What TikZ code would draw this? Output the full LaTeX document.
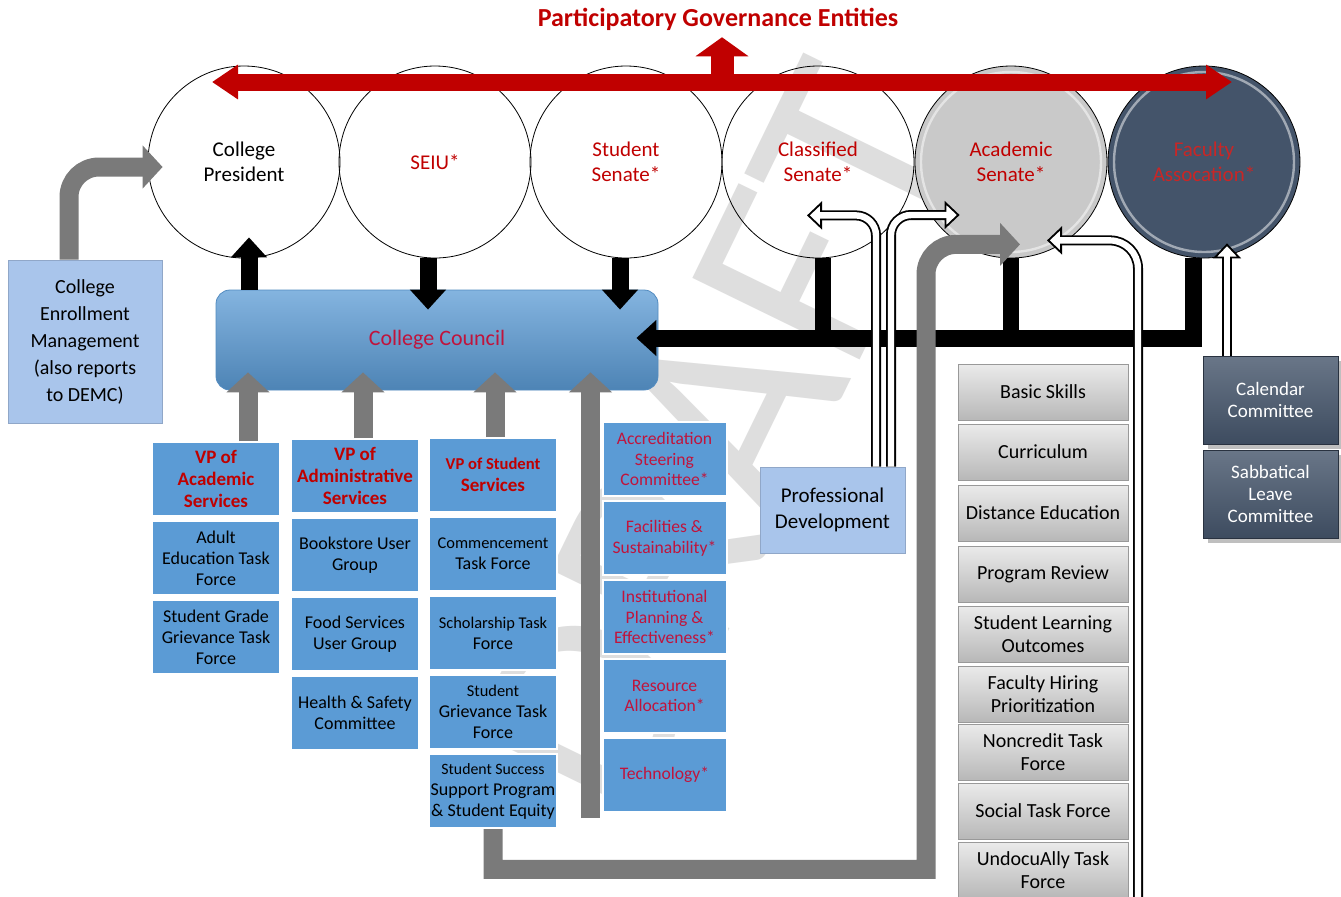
\documentclass[tikz,border=0pt]{standalone}
\usepackage{fontspec}
\setmainfont{Carlito}
\usepackage{tikz}
\usetikzlibrary{shapes,shadows,arrows.meta,positioning,calc}
\pgfdeclarelayer{background}
\pgfdeclarelayer{foreground}
\pgfsetlayers{background,main,foreground}
\definecolor{govred}{HTML}{C00000}
\definecolor{cttred}{HTML}{C0143C}
\definecolor{boxblue}{HTML}{5B9BD5}
\definecolor{paleblue}{HTML}{A9C5EB}
\definecolor{feedgray}{HTML}{7A7A7A}
\definecolor{slate}{HTML}{44546A}
\definecolor{acadgray}{HTML}{C9C9C9}
\tikzstyle{entity} = [draw, circle, minimum size=96pt, inner sep=0pt, text=govred, align=center, font=\fontsize{10.5}{12.5}\selectfont]
\tikzstyle{council} = [rounded corners=7pt, top color=boxblue!75!white, bottom color=boxblue!85!black, draw=boxblue!90!black, minimum width=221pt, minimum height=50pt, text=cttred, font=\fontsize{11}{13}\selectfont]
\tikzstyle{palebox} = [fill=paleblue, draw=paleblue!85!black, align=center, inner sep=1pt, font=\fontsize{10}{13.5}\selectfont]
\tikzstyle{vptitle} = [fill=boxblue, draw=white, line width=1pt, minimum width=64pt, minimum height=37pt, inner sep=1pt, align=center, text=govred, font=\bfseries\fontsize{9.5}{11}\selectfont]
\tikzstyle{taskbox} = [fill=boxblue, draw=white, line width=1pt, minimum width=64pt, minimum height=37pt, inner sep=1pt, align=center, font=\fontsize{9}{10.5}\selectfont]
\tikzstyle{cttee} = [taskbox, minimum width=62pt, text=cttred, font=\fontsize{8.8}{10.3}\selectfont]
\tikzstyle{senatebox} = [draw=black!40, top color=black!8, bottom color=black!28, minimum width=85pt, minimum height=28pt, inner sep=1pt, align=center, font=\fontsize{10}{11.7}\selectfont]
\tikzstyle{facbox} = [draw=slate!60!black, top color=slate!80!white, bottom color=slate!90!black, drop shadow, minimum width=67.5pt, minimum height=44pt, inner sep=1pt, align=center, text=white, font=\fontsize{9.5}{11.2}\selectfont]
\tikzstyle{govboth} = [draw, line width=8.5pt, color=govred, {Triangle[width=16.5pt,length=13pt]}-{Triangle[width=16.5pt,length=13pt]}]
\tikzstyle{govup} = [draw, line width=11.5pt, color=govred, -{Triangle[width=26pt,length=9.5pt]}]
\tikzstyle{linkarrow} = [draw, line width=8.5pt, color=black, -{Triangle[width=17.5pt,length=10pt]}]
\tikzstyle{link} = [draw, line width=8pt, color=black]
\tikzstyle{feed} = [draw, line width=9.5pt, color=feedgray, -{Triangle[width=21pt,length=10pt]}]
\tikzstyle{openshaft} = [draw, line width=5pt, color=black, -{Triangle[width=14pt,length=7.5pt,fill=white,line width=0.9pt]}]
\tikzstyle{openfill} = [draw, line width=3.2pt, color=white, shorten >=6pt]
\newcommand{\entity}[2]{node (e#1) [entity] {#2}}
\newcommand{\vptitle}[2]{node (v#1) [vptitle] {#2}}
\newcommand{\taskbox}[2]{node (t#1) [taskbox] {#2}}
\newcommand{\cttee}[2]{node (c#1) [cttee] {#2}}
\newcommand{\senatebox}[2]{node (s#1) [senatebox] {#2}}
\newcommand{\facbox}[2]{node (f#1) [facbox] {#2}}
\begin{document}
\begin{tikzpicture}[x=0.5pt,y=-0.5pt]
\useasboundingbox (0,0) rectangle (1341,896);
\begin{pgfonlayer}{background}
\fill[white] (0,0) rectangle (1341,896);
\path (718,440) node (wm) [rotate=64, text=black!13, font=\fontsize{145}{145}\selectfont] {DRAFT};
\end{pgfonlayer}

\path (244,162) node (e1) [entity, text=black] {College\\President};
\path (e1)+(191,0) \entity{2}{SEIU*};
\path (e2)+(191,0) \entity{3}{Student\\Senate*};
\path (e3)+(192,0) \entity{4}{Classified\\Senate*};
\path (e4)+(193,0) node (e5) [entity, fill=acadgray] {Academic\\Senate*};
\path (e5)+(193,0) node (e6) [entity, fill=slate, text=govred!85!white] {Faculty\\Assocation*};
\draw[white, line width=1.2pt, opacity=0.5] (e5) circle (45pt);
\draw[white, line width=1.2pt, opacity=0.5] (e6) circle (45pt);

\path (718,19) node (title) [text=govred, font=\bfseries\fontsize{13}{15}\selectfont] {Participatory Governance Entities};
\coordinate (gl) at (212,82);
\coordinate (gr) at (1232,82);
\path [govboth] (gl) -- (gr);
\path [govup] ($(title.south)+(4,49)$) -- ($(title.south)+(4,0)$);

\path (437,340) node (cc) [council] {College Council};
\path (85,341.5) node (cem) [palebox, minimum width=77pt, minimum height=81.5pt] {College\\Enrollment\\Management\\(also reports\\to DEMC)};
\path (832.5,510) node (pd) [palebox, minimum width=72.5pt, minimum height=43pt, font=\fontsize{10.5}{13}\selectfont] {Professional\\Development};

\path (216,479) \vptitle{1}{VP of\\Academic\\Services};
\path (v1)+(0,79) \taskbox{11}{Adult\\Education Task\\Force};
\path (t11)+(0,79) \taskbox{12}{Student Grade\\Grievance Task\\Force};

\path (355,476) \vptitle{2}{VP of\\Administrative\\Services};
\path (v2)+(0,79) \taskbox{21}{Bookstore User\\Group};
\path (t21)+(0,79) \taskbox{22}{Food Services\\User Group};
\path (t22)+(0,79) \taskbox{23}{Health \& Safety\\Committee};

\path (493,475) \vptitle{3}{\fontsize{8.3}{9.8}\selectfont VP of Student\\Services};
\path (v3)+(0,79) \taskbox{31}{\fontsize{8.2}{9.7}\selectfont Commencement\\Task Force};
\path (t31)+(0,79) \taskbox{32}{\fontsize{8.2}{9.7}\selectfont Scholarship Task\\Force};
\path (t32)+(0,79) \taskbox{33}{\fontsize{8.2}{9.7}\selectfont Student\\Grievance Task\\Force};
\path (t33)+(0,79) \taskbox{34}{\fontsize{7.9}{9.4}\selectfont Student Success\\Support Program\\\& Student Equity};

\path (664.5,459) \cttee{1}{Accreditation\\Steering\\Committee*};
\path (c1)+(0,79) \cttee{2}{Facilities \&\\Sustainability*};
\path (c2)+(0,79) \cttee{3}{Institutional\\Planning \&\\Effectiveness*};
\path (c3)+(0,79) \cttee{4}{Resource\\Allocation*};
\path (c4)+(0,79) \cttee{5}{Technology*};

\path (1043,392) \senatebox{1}{Basic Skills};
\path (s1)+(0,60) \senatebox{2}{Curriculum};
\path (s2)+(0,61) \senatebox{3}{Distance Education};
\path (s3)+(0,61) \senatebox{4}{Program Review};
\path (s4)+(0,60) \senatebox{5}{Student Learning\\Outcomes};
\path (s5)+(0,60) \senatebox{6}{Faculty Hiring\\Prioritization};
\path (s6)+(0,58) \senatebox{7}{Noncredit Task\\Force};
\path (s7)+(0,59) \senatebox{8}{Social Task Force};
\path (s8)+(0,59) \senatebox{9}{UndocuAlly Task\\Force};

\path (1270.5,400) \facbox{1}{Calendar\\Committee};
\path (f1)+(0,94) \facbox{2}{Sabbatical\\Leave\\Committee};

\path [linkarrow] ($(e1.south |- cc.north)+(5,0)$) -- ($(e1.south)+(5,-21)$);
\path [linkarrow] ($(e2.south)+(-7,0)$) -- ($(e2.south |- cc.north)+(-7,20)$);
\path [linkarrow] ($(e3.south)+(-6,0)$) -- ($(e3.south |- cc.north)+(-6,20)$);
\path [link] ($(e4.south)+(5,0)$) -- ($(e4.south |- cc.east)+(5,-2)$);
\path [link] (e5.south) -- ($(e5.south |- cc.east)+(0,-2)$);
\path [linkarrow] ($(e6.south)+(-11,0)$) |- ($(cc.east)+(-22,-2)$);

\path [feed, rounded corners=15pt] ($(cem.north)+(-16,0)$) |- ($(e1.west)+(15,5)$);
\path [feed] ($(v1.north)+(32,0)$) -- ($(v1.north |- cc.south)+(32,-18)$);
\path [feed] ($(v2.north)+(8,0)$) -- ($(v2.north |- cc.south)+(8,-18)$);
\path [feed] ($(v3.north)+(2,0)$) -- ($(v3.north |- cc.south)+(2,-18)$);
\path [feed] ($(c5.south west)+(-11,5)$) -- ($(c5.south west |- cc.south)+(-11,-18)$);
\path [feed] (t34.south) |- ($(e5.south)+(-85,611)$) -- ($(e5.south)+(-85,600)$) [rounded corners=15pt] |- ($(e5.south)+(9,-14)$);

\path [openshaft, rounded corners=10pt] ($(pd.north)+(43.5,0)$) |- ($(e4.south)+(-11,-43)$);
\path [openfill, rounded corners=10pt] ($(pd.north)+(43.5,0)$) |- ($(e4.south)+(-11,-43)$);
\path [openshaft, rounded corners=10pt] ($(pd.north)+(58.5,0)$) |- ($(e5.west)+(45,53)$);
\path [openfill, rounded corners=10pt] ($(pd.north)+(58.5,0)$) |- ($(e5.west)+(45,53)$);
\coordinate (ubot) at (1138,910);
\path [openshaft, rounded corners=14pt] (ubot) |- ($(e5.south)+(36,-18)$);
\path [openfill, rounded corners=14pt] (ubot) |- ($(e5.south)+(36,-18)$);
\path [openshaft] ($(f1.north)+(-43.5,0)$) -- ($(f1.north |- e6.south)+(-43.5,-15)$);
\path [openfill] ($(f1.north)+(-43.5,0)$) -- ($(f1.north |- e6.south)+(-43.5,-15)$);
\end{tikzpicture}
\end{document}
